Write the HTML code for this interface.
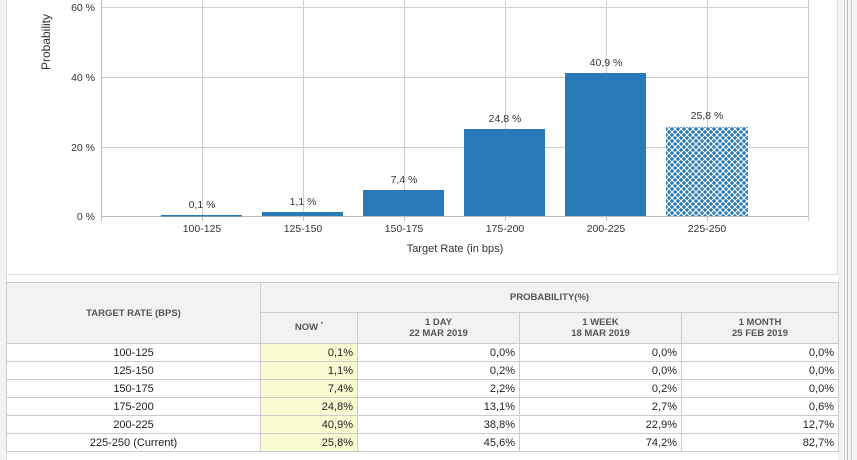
<!DOCTYPE html>
<html><head><meta charset="utf-8"><style>
body{margin:0;width:857px;height:460px;overflow:hidden;background:#fff;font-family:"Liberation Sans",Arial,sans-serif;position:relative}
svg text{font-family:"Liberation Sans",Arial,sans-serif}
table{position:absolute;left:6px;top:282px;border-collapse:collapse;font-size:11px;color:#222;table-layout:fixed}
td,th{border:1px solid #ccc;padding:0 4px;height:17px}
th{background:#f2f2f2;font-size:9.5px;color:#555;font-weight:bold}
td.c{text-align:center}
td.r{text-align:right}
td.y{background:#fafad2;text-align:right}
</style></head><body>
<div style="position:absolute;left:0;top:0;width:6px;height:460px;background:#f2f2f2;border-right:1px solid #ddd"></div>
<div style="position:absolute;left:6px;top:274px;width:832px;height:1px;background:#ddd"></div>
<div style="position:absolute;left:838px;top:0;width:19px;height:460px;background:#f4f4f4"></div>
<div style="position:absolute;left:837px;top:0;width:1px;height:275px;background:#ddd"></div>
<div style="position:absolute;left:844px;top:0;width:1px;height:460px;background:#ccc"></div>
<div style="position:absolute;left:847px;top:0;width:1px;height:460px;background:#bbb"></div>
<div style="position:absolute;left:851px;top:0;width:1px;height:460px;background:#ccc"></div>
<svg width="857" height="275" style="position:absolute;left:0;top:0">
<defs><pattern id="h" width="6" height="6" patternUnits="userSpaceOnUse"><rect width="6" height="6" fill="#2a7ab8"/><path d="M0 0L6 6M6 0L0 6" stroke="#fff" stroke-width="1.1"/></pattern></defs>
<g stroke="#d0d0d0" stroke-width="1">
<line x1="101" y1="7.5" x2="808" y2="7.5"/><line x1="101" y1="77.5" x2="808" y2="77.5"/><line x1="101" y1="147.5" x2="808" y2="147.5"/>
<line x1="202.5" y1="0" x2="202.5" y2="216"/><line x1="303.5" y1="0" x2="303.5" y2="216"/><line x1="404.5" y1="0" x2="404.5" y2="216"/><line x1="505.5" y1="0" x2="505.5" y2="216"/><line x1="606.5" y1="0" x2="606.5" y2="216"/><line x1="707.5" y1="0" x2="707.5" y2="216"/><line x1="808.5" y1="0" x2="808.5" y2="221"/>
</g>
<g stroke="#bbb"><line x1="101.5" y1="0" x2="101.5" y2="221"/><line x1="101" y1="216.5" x2="808" y2="216.5"/>
<line x1="202.5" y1="216" x2="202.5" y2="221"/><line x1="303.5" y1="216" x2="303.5" y2="221"/><line x1="404.5" y1="216" x2="404.5" y2="221"/><line x1="505.5" y1="216" x2="505.5" y2="221"/><line x1="606.5" y1="216" x2="606.5" y2="221"/><line x1="707.5" y1="216" x2="707.5" y2="221"/></g>
<g fill="#2a7ab8">
<rect x="161" y="215" width="81" height="1.5"/>
<rect x="262" y="212" width="81" height="4"/>
<rect x="363" y="190" width="81" height="26"/>
<rect x="464" y="129" width="81" height="87"/>
<rect x="565" y="73" width="81" height="143"/>
</g>
<rect x="666" y="127" width="82" height="89" fill="url(#h)"/>
<g font-size="10.5" fill="#333" text-anchor="middle">
<text x="202" y="208">0,1 %</text><text x="303" y="205">1,1 %</text><text x="404" y="183">7,4 %</text><text x="505" y="122">24,8 %</text><text x="606" y="66">40,9 %</text><text x="707" y="119">25,8 %</text>
<text x="202" y="232">100-125</text><text x="303" y="232">125-150</text><text x="404" y="232">150-175</text><text x="505" y="232">175-200</text><text x="606" y="232">200-225</text><text x="707" y="232">225-250</text>
<text x="455" y="252" font-size="11">Target Rate (in bps)</text>
</g>
<g font-size="10.5" fill="#333" text-anchor="end">
<text x="95" y="11">60 %</text><text x="95" y="81">40 %</text><text x="95" y="151">20 %</text><text x="95" y="220">0 %</text>
</g>
<text x="50" y="42" font-size="12" fill="#333" text-anchor="middle" transform="rotate(-90 50 42)">Probability</text>
</svg>
<table>
<colgroup><col style="width:254px"><col style="width:97px"><col style="width:162px"><col style="width:162px"><col style="width:157px"></colgroup>
<tr style="height:30px"><th rowspan="2">TARGET RATE (BPS)</th><th colspan="4">PROBABILITY(%)</th></tr>
<tr style="height:31px"><th>NOW <sup style="font-size:6px">*</sup></th><th>1 DAY<br>22 MAR 2019</th><th>1 WEEK<br>18 MAR 2019</th><th>1 MONTH<br>25 FEB 2019</th></tr>
<tr><td class="c">100-125</td><td class="y">0,1%</td><td class="r">0,0%</td><td class="r">0,0%</td><td class="r">0,0%</td></tr>
<tr><td class="c">125-150</td><td class="y">1,1%</td><td class="r">0,2%</td><td class="r">0,0%</td><td class="r">0,0%</td></tr>
<tr><td class="c">150-175</td><td class="y">7,4%</td><td class="r">2,2%</td><td class="r">0,2%</td><td class="r">0,0%</td></tr>
<tr><td class="c">175-200</td><td class="y">24,8%</td><td class="r">13,1%</td><td class="r">2,7%</td><td class="r">0,6%</td></tr>
<tr><td class="c">200-225</td><td class="y">40,9%</td><td class="r">38,8%</td><td class="r">22,9%</td><td class="r">12,7%</td></tr>
<tr><td class="c">225-250 (Current)</td><td class="y">25,8%</td><td class="r">45,6%</td><td class="r">74,2%</td><td class="r">82,7%</td></tr>
</table>
</body></html>
